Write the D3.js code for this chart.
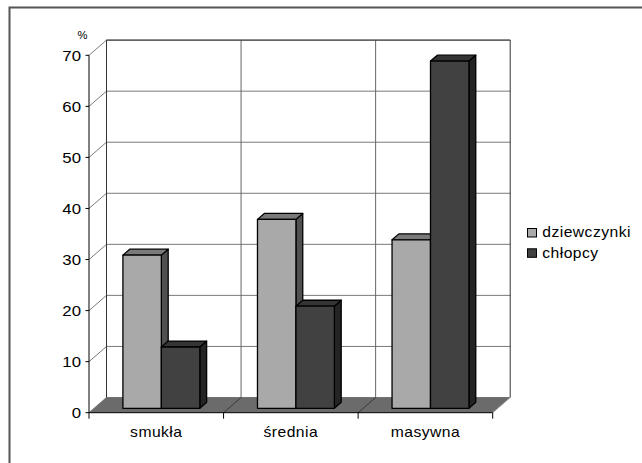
<!DOCTYPE html>
<html>
<head>
<meta charset="utf-8">
<script src="https://cdn.jsdelivr.net/npm/d3@7/dist/d3.min.js"></script>
<style>
  html, body { margin: 0; padding: 0; background: #fff; }
  svg { display: block; }
  text { font-family: "Liberation Sans", Arial, sans-serif; fill: #000; }
</style>
</head>
<body>
<svg id="chart" width="642" height="463"></svg>
<script>
// Sylwetka (body build) by sex, percent
const categories = ["smukła", "średnia", "masywna"];
const seriesNames = ["dziewczynki", "chłopcy"];
const girls = [30, 37, 33];
const boys = [12, 20, 68];
const yTicks = [0, 10, 20, 30, 40, 50, 60, 70];
const yUnit = "%";

const series = [
  { name: seriesNames[0], values: girls, front: "#a9a9a9", top: "#7a7a7a", side: "#505050" },
  { name: seriesNames[1], values: boys,  front: "#414141", top: "#343434", side: "#242424" }
];

const svg = d3.select("#chart");

// Front plane scales
const x = d3.scaleBand().domain(categories).range([89, 492.7]).paddingInner(0).paddingOuter(0);
const xs = d3.scaleBand().domain(seriesNames).range([0, x.bandwidth()]).paddingInner(0).paddingOuter(0.75);
const y = d3.scaleLinear().domain([0, 70]).range([412.7, 55.3]);

// Oblique depth: z = 0 front, z = 1 back wall
const DX = 17.5, DY = 15.2;
const P = (px, v, z) => [px + z * DX, y(v) - z * DY];
const poly = pts => "M" + pts.map(p => p.join(",")).join("L") + "Z";

const x0 = x.range()[0], x1 = x.range()[1];
const vMax = d3.max(yTicks);

// Outer frame (top and left edges)
svg.append("path")
  .attr("d", `M9.5,463V7.5H642`)
  .attr("fill", "none").attr("stroke", "#555").attr("stroke-width", 2);

// Back wall
const bw0 = P(x0, vMax, 1), bw1 = P(x1, 0, 1);
svg.append("rect")
  .attr("x", bw0[0]).attr("y", bw0[1])
  .attr("width", bw1[0] - bw0[0]).attr("height", bw1[1] - bw0[1])
  .attr("fill", "#fff");

const grid = svg.append("g").attr("fill", "none");
// horizontal gridlines on back wall + diagonals on left wall
yTicks.forEach(t => {
  const a = P(x0, t, 1), b = P(x1, t, 1), c = P(x0, t, 0);
  grid.append("line").attr("x1", a[0]).attr("y1", a[1]).attr("x2", b[0]).attr("y2", b[1])
    .attr("stroke", "#7a7a7a").attr("stroke-width", 1);
  grid.append("line").attr("x1", c[0]).attr("y1", c[1]).attr("x2", a[0]).attr("y2", a[1])
    .attr("stroke", "#7a7a7a").attr("stroke-width", 1);
});
// vertical category lines on back wall
const bounds = categories.map(c => x(c)).concat([x1]);
bounds.forEach(bx => {
  const a = P(bx, vMax, 1), b = P(bx, 0, 1);
  grid.append("line").attr("x1", a[0]).attr("y1", a[1]).attr("x2", b[0]).attr("y2", b[1])
    .attr("stroke", bx === x0 || bx === x1 ? "#333" : "#666").attr("stroke-width", 1);
});
// top edge of the back wall
grid.append("line").attr("x1", bw0[0]).attr("y1", bw0[1]).attr("x2", bw1[0]).attr("y2", bw0[1])
  .attr("stroke", "#333").attr("stroke-width", 1);

// Floor
svg.append("path")
  .attr("d", poly([P(x0, 0, 0), P(x1, 0, 0), P(x1, 0, 1), P(x0, 0, 1)]))
  .attr("fill", "#6b6b6b");
bounds.slice(1).forEach(bx => {
  const a = P(bx, 0, 0), b = P(bx, 0, 1);
  svg.append("line").attr("x1", a[0]).attr("y1", a[1]).attr("x2", b[0]).attr("y2", b[1])
    .attr("stroke", bx === x1 ? "#999" : "#3a3a3a").attr("stroke-width", 1);
});

// Axes
const axes = svg.append("g").attr("stroke", "#000").attr("stroke-width", 1);
axes.append("line").attr("x1", x0).attr("x2", x0).attr("y1", y(0)).attr("y2", y(vMax));
axes.append("line").attr("x1", x0).attr("x2", x1).attr("y1", y(0)).attr("y2", y(0));
yTicks.forEach(t => {
  axes.append("line").attr("x1", x0 - 3.5).attr("x2", x0).attr("y1", y(t)).attr("y2", y(t));
});
bounds.forEach(bx => {
  axes.append("line").attr("x1", bx).attr("x2", bx).attr("y1", y(0)).attr("y2", y(0) + 6);
});

// Bars (side, top, front faces) drawn left-to-right so each bar covers the previous side face
const ZF = 0.29, ZB = 0.68;
const bars = svg.append("g").attr("stroke", "#000").attr("stroke-width", 1.3).attr("stroke-linejoin", "round");
categories.forEach((cat, i) => {
  series.forEach(s => {
    const v = s.values[i];
    const l = x(cat) + xs(s.name), r = l + xs.bandwidth();
    const fl0 = P(l, 0, ZF), fr0 = P(r, 0, ZF), flv = P(l, v, ZF), frv = P(r, v, ZF);
    const br0 = P(r, 0, ZB), blv = P(l, v, ZB), brv = P(r, v, ZB);
    bars.append("path").attr("d", poly([fr0, frv, brv, br0])).attr("fill", s.side);
    bars.append("path").attr("d", poly([flv, frv, brv, blv])).attr("fill", s.top);
    bars.append("path").attr("d", poly([fl0, flv, frv, fr0])).attr("fill", s.front);
  });
});

// Horizontally widened text helper
function label(g, tx, ty, str, size, anchor, spacing) {
  g.append("text")
    .attr("transform", `translate(${tx},${ty}) scale(1.12,1)`)
    .attr("text-anchor", anchor)
    .attr("font-size", size)
    .attr("letter-spacing", spacing || 0)
    .attr("fill", "#000")
    .text(str);
}

// Y tick labels
const yl = svg.append("g");
yTicks.forEach(t => label(yl, 81, y(t) + 5.4, String(t), 15, "end", 0));
label(yl, 82.5, 38.5, yUnit, 10, "middle", 0);

// Category labels
const xl = svg.append("g");
categories.forEach(c => label(xl, x(c) + x.bandwidth() / 2, 437.3, c, 14, "middle", 0.4));

// Legend
const lg = svg.append("g");
series.forEach((s, i) => {
  const ly = 228.5 + i * 20.3;
  lg.append("rect").attr("x", 527.5).attr("y", ly).attr("width", 9).attr("height", 8.5)
    .attr("fill", s.front).attr("stroke", "#000").attr("stroke-width", 1);
  label(lg, 542.3, ly + 8.9, s.name, 14, "start", 0.4);
});
</script>
</body>
</html>
